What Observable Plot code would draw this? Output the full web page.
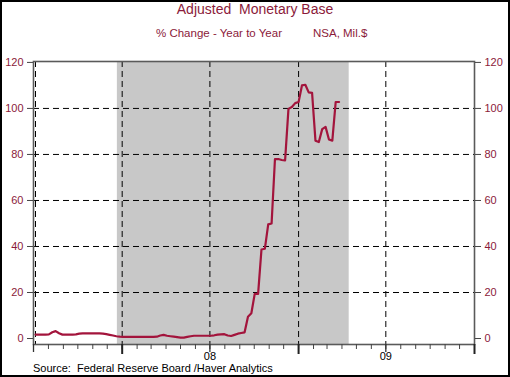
<!DOCTYPE html>
<html><head><meta charset="utf-8">
<script src="https://cdn.jsdelivr.net/npm/d3@7"></script>
<script src="https://cdn.jsdelivr.net/npm/@observablehq/plot@0.6"></script>
<style>
body{margin:0;background:#fff;}
#wrap{position:relative;width:510px;height:377px;overflow:hidden;font-family:"Liberation Sans",Arial,sans-serif;background:#fff;}
#border{position:absolute;left:0;top:0;width:510px;height:377px;box-sizing:border-box;border:2px solid #000;pointer-events:none;}
.t{position:absolute;white-space:pre;color:#8B1A3A;}
#chart{position:absolute;left:0;top:0;}
</style></head><body>
<div id="wrap">
  <div id="chart"></div>
  <div class="t" style="left:0;width:510px;text-align:center;top:2px;font-size:14px;line-height:14px;">Adjusted  Monetary Base</div>
  <div class="t" style="left:156px;top:28px;font-size:11.5px;line-height:11.5px;">% Change - Year to Year</div>
  <div class="t" style="left:313px;top:28px;font-size:11.5px;line-height:11.5px;">NSA, Mil.$</div>
  <div class="t" style="left:33px;top:363px;font-size:11px;line-height:11px;color:#000;">Source:  Federal Reserve Board /Haver Analytics</div>
  <div id="border"></div>
</div>
<script>
// Weekly observations, first week ending:
const startWeek = "2007-07-05";
// % change year to year, weekly
const growth = [
  1.7, 1.7, 1.7, 1.7, 1.8, 2.7, 3.2, 2.3, 1.7, 1.7,
  1.7, 1.7, 1.8, 2.1, 2.2, 2.2, 2.2, 2.2, 2.2, 2.2,
  2.1, 1.9, 1.6, 1.3, 1.0, 0.8, 0.7, 0.7, 0.7, 0.7,
  0.7, 0.7, 0.7, 0.7, 0.7, 0.7, 0.8, 1.3, 1.6, 1.2,
  1.0, 0.8, 0.6, 0.4, 0.4, 0.7, 1.0, 1.2, 1.2, 1.2,
  1.2, 1.2, 1.2, 1.4, 1.7, 1.8, 1.9, 1.3, 1.1, 1.6,
  2.1, 2.4, 2.7, 9.5, 11.0, 19.4, 19.4, 38.7, 39.0, 49.6,
  50.0, 78.0, 78.0, 77.6, 77.4, 99.8, 100.6, 102.3, 102.8, 110.0,
  110.3, 107.0, 106.8, 86.0, 85.4, 91.0, 92.0, 86.5, 86.0, 102.8,
  102.8
];
const recession = ["2007-12-22", "2009-04-16"];
const xDomain = ["2007-07-01", "2010-01-01"];
const yTicks = [0, 20, 40, 60, 80, 100, 120];
const yGrid = [20, 40, 60, 80, 100];
const xGridDates = ["2008-01-01", "2008-07-01", "2009-01-01", "2009-07-01"];
const xFirstGrid = ["2007-07-01"];
const yearTicks = ["2008-01-01", "2009-01-01", "2010-01-01"];
const halfYearTicks = ["2007-07-01", "2008-07-01", "2009-07-01"];
const xLabelDates = ["2008-07-01", "2009-07-01"];
const xLabels = ["08", "09"];

const start = new Date(startWeek);
const data = growth.map((v, i) => ({date: d3.utcDay.offset(start, 7 * i), value: v}));
const monthTicks = d3.utcMonth.range(new Date(xDomain[0]), d3.utcDay.offset(new Date(xDomain[1]), 1));
const labelData = xLabelDates.map((d, i) => ({date: new Date(d), label: xLabels[i]}));
const red = "#8B1A3A";

const chart = Plot.plot({
  width: 510,
  height: 377,
  marginLeft: 33,
  marginRight: 36,
  marginTop: 61,
  marginBottom: 33,
  style: {fontFamily: "'Liberation Sans', Arial, sans-serif", fontSize: "11px", background: "transparent"},
  x: {type: "utc", domain: xDomain.map(d => new Date(d))},
  y: {domain: [-2.6, 120.4]},
  marks: [
    Plot.rect([{x1: new Date(recession[0]), x2: new Date(recession[1])}], {x1: "x1", x2: "x2", fill: "#c8c8c8"}),
    Plot.ruleY(yGrid, {stroke: "#000", strokeWidth: 1, strokeDasharray: "6,4"}),
    Plot.ruleX(xGridDates.map(d => new Date(d)), {stroke: "#000", strokeWidth: 1, strokeDasharray: "6,4"}),
    Plot.ruleX(xFirstGrid.map(d => new Date(d)), {stroke: "#000", strokeWidth: 1, strokeDasharray: "6,4", dx: 2}),
    Plot.line(data, {x: "date", y: "value", stroke: "#A3143C", strokeWidth: 2.2, strokeLinejoin: "round"}),
    Plot.frame({stroke: "#5a5a5a", strokeWidth: 1.6}),
    Plot.axisY(yTicks, {anchor: "left", tickSize: 6, tickPadding: 4, stroke: "#444", fill: red, fontSize: 11, label: null}),
    Plot.axisY(yTicks, {anchor: "right", tickSize: 6, tickPadding: 4, stroke: "#444", fill: red, fontSize: 11, label: null}),
    Plot.axisX(monthTicks, {anchor: "bottom", tickSize: 5, stroke: "#444", tickFormat: () => "", label: null}),
    Plot.axisX(halfYearTicks.map(d => new Date(d)), {anchor: "bottom", tickSize: 8, stroke: "#333", strokeWidth: 1.3, tickFormat: () => "", label: null}),
    Plot.axisX(yearTicks.map(d => new Date(d)), {anchor: "bottom", tickSize: 10, stroke: "#222", strokeWidth: 2, tickFormat: () => "", label: null}),
    Plot.text(labelData, {x: "date", text: "label", frameAnchor: "bottom", dy: 15.5, fill: "#000", fontSize: 11})
  ]
});
document.getElementById("chart").appendChild(chart);
</script>
</body></html>
